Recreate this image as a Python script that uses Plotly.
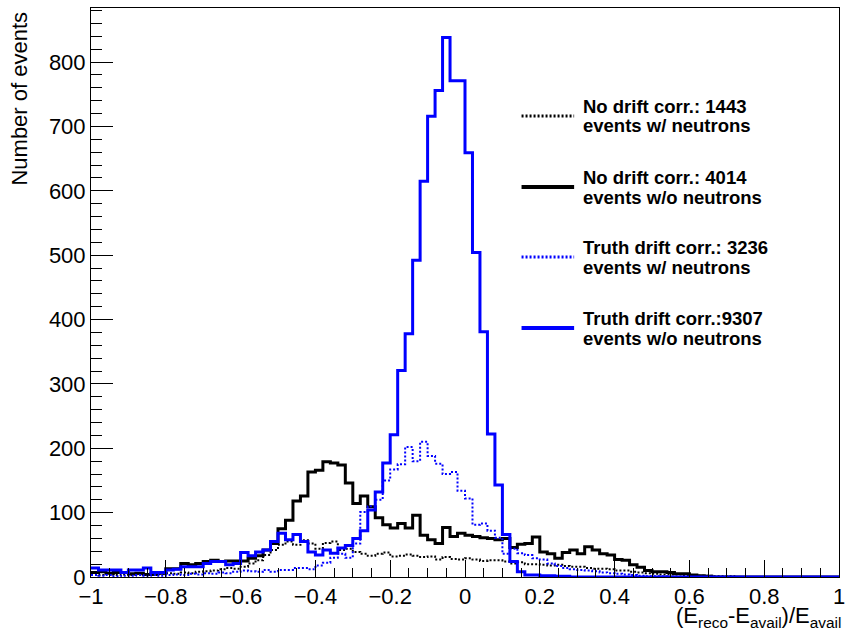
import numpy as np
import plotly.graph_objects as go

# ---------------- data ----------------
bin_low = -1.0
bin_high = 1.0
n_bins = 100

# No drift corr., events with neutrons (black dotted)
nodrift_wn = [4, 3, 5, 3, 4, 3, 5, 4, 3, 5,
              6, 5, 7, 6, 8, 9, 10, 12, 14, 13,
              16, 21, 26, 34, 42, 50, 55, 50, 57, 52,
              44, 53, 55, 42, 44, 39, 36, 33, 36, 38,
              32, 33, 35, 33, 31, 32, 27, 31, 28, 27,
              29, 27, 25, 26, 26, 24, 21, 23, 20, 20,
              19, 18, 19, 17, 16, 16, 14, 13, 13, 12,
              10, 10, 8, 7, 6, 5, 4, 4, 4, 3,
              2, 2, 2, 1, 1, 1, 0, 0, 0, 0,
              0, 0, 0, 0, 0, 0, 0, 0, 0, 0]

# No drift corr., events without neutrons (black solid)
nodrift_won = [7, 8, 6, 7, 7, 5, 6, 4, 5, 6,
               13, 13, 21, 19, 21, 24, 26, 24, 25, 25,
               25, 29, 33, 42, 52, 75, 88, 118, 126, 163,
               166, 179, 177, 174, 146, 114, 126, 109, 92, 81,
               76, 83, 76, 96, 65, 58, 52, 77, 63, 68,
               65, 63, 61, 60, 58, 60, 46, 51, 52, 62,
               39, 36, 29, 38, 42, 36, 47, 42, 36, 34,
               27, 26, 19, 15, 10, 8, 8, 7, 5, 5,
               3, 2, 1, 0, 0, 0, 0, 0, 0, 0,
               0, 0, 0, 0, 0, 0, 0, 0, 0, 0]

# Truth drift corr., events with neutrons (blue dotted)
truth_wn = [3, 2, 3, 1, 2, 2, 3, 2, 3, 2,
            3, 4, 3, 5, 4, 6, 5, 7, 6, 8,
            10, 9, 8, 11, 8, 11, 11, 14, 14, 12,
            18, 22, 30, 36, 30, 52, 101, 110, 120, 150,
            167, 175, 202, 180, 210, 188, 176, 160, 163, 134,
            122, 81, 83, 72, 61, 36, 44, 37, 34, 29,
            27, 21, 17, 14, 12, 11, 10, 9, 7, 6,
            5, 4, 3, 2, 1, 1, 1, 0, 0, 0,
            0, 0, 0, 0, 0, 0, 0, 0, 0, 0,
            0, 0, 0, 0, 0, 0, 0, 0, 0, 0]

# Truth drift corr., events without neutrons (blue solid)
truth_won = [14, 11, 11, 11, 7, 11, 11, 14, 7, 7,
             11, 12, 16, 16, 16, 21, 24, 24, 19, 21,
             38, 33, 39, 42, 55, 68, 58, 66, 55, 39,
             34, 42, 37, 45, 49, 60, 72, 104, 132, 177,
             221, 321, 378, 492, 615, 716, 756, 838, 771, 771,
             659, 504, 381, 222, 143, 66, 24, 8, 3, 3,
             2, 2, 1, 1, 0, 0, 0, 0, 0, 0,
             0, 0, 0, 0, 0, 0, 0, 0, 0, 0,
             0, 0, 0, 0, 0, 0, 0, 0, 0, 0,
             0, 0, 0, 0, 0, 0, 0, 0, 0, 0]

legend_line1 = ["No drift corr.: 1443", "No drift corr.: 4014",
                "Truth drift corr.: 3236", "Truth drift corr.:9307"]
legend_line2 = ["events w/ neutrons", "events w/o neutrons",
                "events w/ neutrons", "events w/o neutrons"]

x_tick_values = [-1, -0.8, -0.6, -0.4, -0.2, 0, 0.2, 0.4, 0.6, 0.8, 1]
x_tick_labels = ["\u22121", "\u22120.8", "\u22120.6", "\u22120.4", "\u22120.2",
                 "0", "0.2", "0.4", "0.6", "0.8", "1"]
y_tick_values = [0, 100, 200, 300, 400, 500, 600, 700, 800]
y_tick_labels = ["0", "100", "200", "300", "400", "500", "600", "700", "800"]

y_axis_title = "Number of events"
x_axis_title = "(E<sub>reco</sub>-E<sub>avail</sub>)/E<sub>avail</sub>"

# ---------------- styles ----------------
series = [nodrift_wn, nodrift_won, truth_wn, truth_won]
colors = ["#000000", "#000000", "#0000ff", "#0000ff"]
dashes = ["2px,2px", "solid", "2px,2px", "solid"]
widths = [2, 3, 2, 3]

edges = np.linspace(bin_low, bin_high, n_bins + 1)

fig = go.Figure()
for vals, col, dsh, w, name in zip(series, colors, dashes, widths, legend_line1):
    yv = list(vals) + [vals[-1]]
    fig.add_trace(go.Scatter(
        x=edges, y=yv, mode="lines", line_shape="hv",
        line=dict(color=col, width=w, dash=dsh),
        name=name, showlegend=False, hoverinfo="skip"))

# plot area in pixels (for layout of legend/titles)
W, H = 850, 632
ml, mr, mt, mb = 91, 5, 8, 55
pw, ph = W - ml - mr, H - mt - mb

def px_to_paper_x(px):
    return (px - ml) / pw

def px_to_paper_y(py):
    return (H - mb - py) / ph

FONT = "Liberation Sans, Arial, Helvetica"

# legend (manual, ROOT style)
row_px = [116, 187, 257, 328]
for i, ry in enumerate(row_px):
    fig.add_shape(type="line", xref="paper", yref="paper",
                  x0=px_to_paper_x(525), x1=px_to_paper_x(578),
                  y0=px_to_paper_y(ry), y1=px_to_paper_y(ry),
                  line=dict(color=colors[i], width=4 if widths[i] == 3 else 3,
                            dash=dashes[i]))
    fig.add_annotation(xref="paper", yref="paper",
                       x=px_to_paper_x(585), y=px_to_paper_y(ry - 9),
                       xanchor="left", yanchor="middle", showarrow=False,
                       text="<b>" + legend_line1[i] + "</b>",
                       font=dict(family=FONT, size=18.5, color="black"))
    fig.add_annotation(xref="paper", yref="paper",
                       x=px_to_paper_x(585), y=px_to_paper_y(ry + 10),
                       xanchor="left", yanchor="middle", showarrow=False,
                       text="<b>" + legend_line2[i] + "</b>",
                       font=dict(family=FONT, size=18.5, color="black"))

# axis titles
fig.add_annotation(xref="paper", yref="paper",
                   x=px_to_paper_x(19), y=px_to_paper_y(10),
                   xanchor="center", yanchor="top", textangle=-90,
                   showarrow=False, text=y_axis_title,
                   font=dict(family=FONT, size=22, color="black"))
fig.add_annotation(xref="paper", yref="paper",
                   x=px_to_paper_x(849), y=px_to_paper_y(601),
                   xanchor="right", yanchor="top",
                   showarrow=False, text=x_axis_title,
                   font=dict(family=FONT, size=22, color="black"))

axis_common = dict(showgrid=False, zeroline=False, showline=True, mirror=True,
                   linecolor="black", linewidth=1, ticks="inside",
                   tickcolor="black", tickwidth=1,
                   tickfont=dict(family=FONT, size=22, color="black"))

fig.update_xaxes(range=[bin_low, bin_high], tickmode="array",
                 tickvals=x_tick_values, ticktext=x_tick_labels, ticklen=17,
                 ticklabeloverflow="allow",
                 minor=dict(tickmode="linear", tick0=-1, dtick=0.05, ticklen=9,
                            ticks="inside", tickcolor="black", tickwidth=1),
                 **axis_common)
fig.update_yaxes(range=[0, 884], tickmode="array",
                 tickvals=y_tick_values, ticktext=y_tick_labels, ticklen=22,
                 minor=dict(tickmode="linear", tick0=0, dtick=20, ticklen=11,
                            ticks="inside", tickcolor="black", tickwidth=1),
                 **axis_common)

fig.update_layout(width=W, height=H,
                  margin=dict(l=ml, r=mr, t=mt, b=mb),
                  paper_bgcolor="white", plot_bgcolor="white",
                  showlegend=False)

fig.write_html("out.html")
